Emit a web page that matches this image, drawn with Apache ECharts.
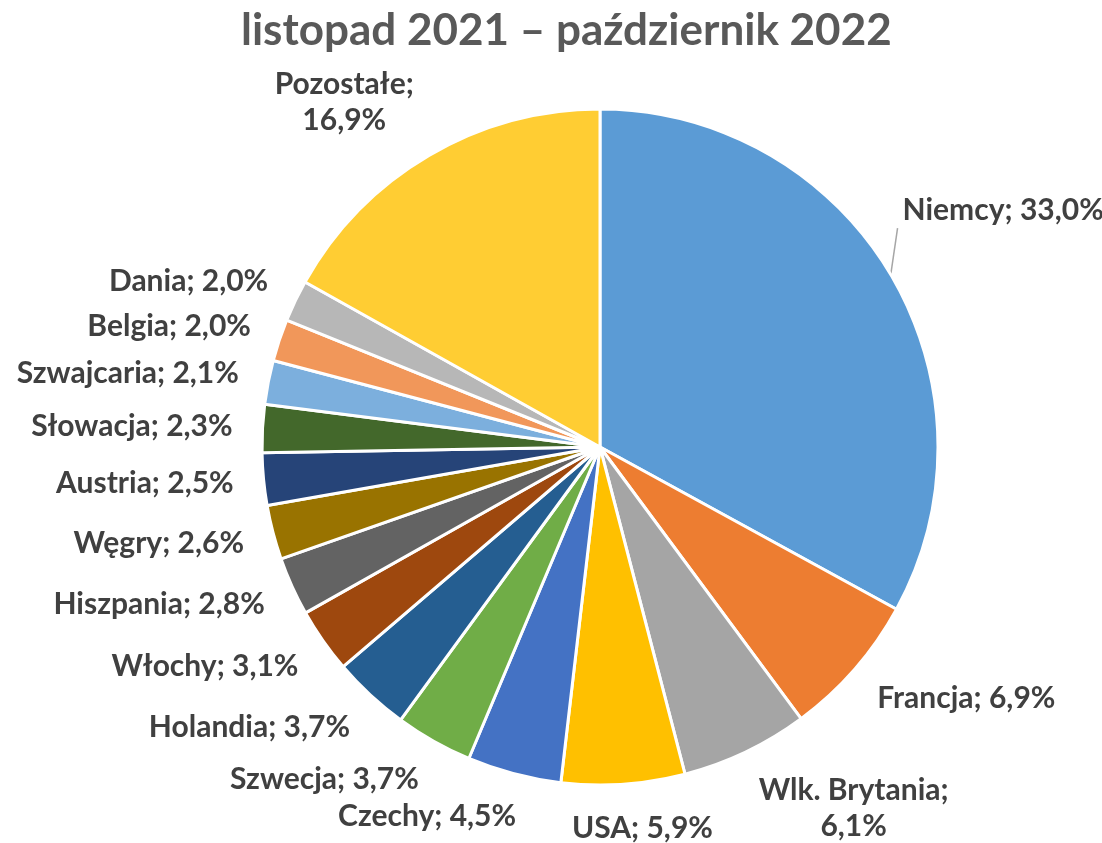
<!DOCTYPE html>
<html><head><meta charset="utf-8">
<script src="https://cdn.jsdelivr.net/npm/echarts@6/dist/echarts.min.js"></script>
<style>html,body{margin:0;padding:0;background:#fff}#c{width:1102px;height:843px}</style>
</head><body><div id="c"></div>
<script>
const titleText = 'listopad 2021 – październik 2022';
const categories = ['Niemcy','Francja','Wlk. Brytania','USA','Czechy','Szwecja','Holandia','Włochy','Hiszpania','Węgry','Austria','Słowacja','Szwajcaria','Belgia','Dania','Pozostałe'];
const values = [33.0,6.9,6.1,5.9,4.5,3.7,3.7,3.1,2.8,2.6,2.5,2.3,2.1,2.0,2.0,16.9];
const colors = ['#5B9BD5','#ED7D31','#A5A5A5','#FFC000','#4472C4','#70AD47','#255E91','#9E480E','#636363','#997300','#264478','#43682B','#7CAFDD','#F1975A','#B7B7B7','#FFCD33'];
const twoLine = {'Wlk. Brytania':true,'Pozostałe':true};

// layout / style
const CX = 600, CY = 447, R = 338, GAP = 30;
const labelNudge = {'Niemcy':[-14,-42]};

const total = values.reduce((a,b)=>a+b,0);
const midAngles = [];
{ let acc = 0; values.forEach(v=>{ midAngles.push((acc + v/2)/total*2*Math.PI); acc += v; }); }
const clamp = (x,a,b)=>Math.max(a,Math.min(b,x));

const chart = echarts.init(document.getElementById('c'), null, {renderer:'canvas'});
const data = categories.map((c,i)=>({
  name:c, value:values[i], itemStyle:{color:colors[i]},
  labelLine:{show: i===0}
}));
chart.setOption({
  animation:false,
  title:{text:titleText, left:236, top:4,
    textStyle:{fontFamily:'Lato', fontWeight:'bold', fontSize:44, color:'#595959'}},
  series:[{
    type:'pie', center:[CX,CY], radius:R, startAngle:90, clockwise:true,
    avoidLabelOverlap:false,
    itemStyle:{borderColor:'#fff', borderWidth:3},
    label:{show:true, position:'outside', fontFamily:'Lato', fontWeight:'bold', fontSize:30, color:'#404040',
      lineHeight:36, overflow:'none',
      formatter:p=> p.name + ';' + (twoLine[p.name]?'\n':' ') + p.value.toFixed(1).replace('.',',') + '%'},
    labelLine:{length:10, length2:5, lineStyle:{color:'#A6A6A6', width:1.5}},
    labelLayout:function(params){
      const i = params.dataIndex;
      const a = midAngles[i];
      const dx = Math.sin(a), dy = -Math.cos(a);
      const w = params.labelRect.width, h = params.labelRect.height;
      let x = CX + (R+GAP)*dx + clamp(dx*3.5,-1,1)*w/2;
      let y = CY + (R+GAP)*dy + dy*(h/2 - 4);
      const n = labelNudge[categories[i]];
      if(n){ x += n[0]; y += n[1]; }
      const res = {x:x, y:y, align:'center', verticalAlign:'middle'};
      if(i===0){
        const p0 = [CX + R*dx, CY + R*dy];
        const p1 = [x - w/2 - 5, y + h/2];
        res.labelLinePoints = [p0, p1, p1];
      }
      return res;
    },
    data:data
  }]
});
</script></body></html>
